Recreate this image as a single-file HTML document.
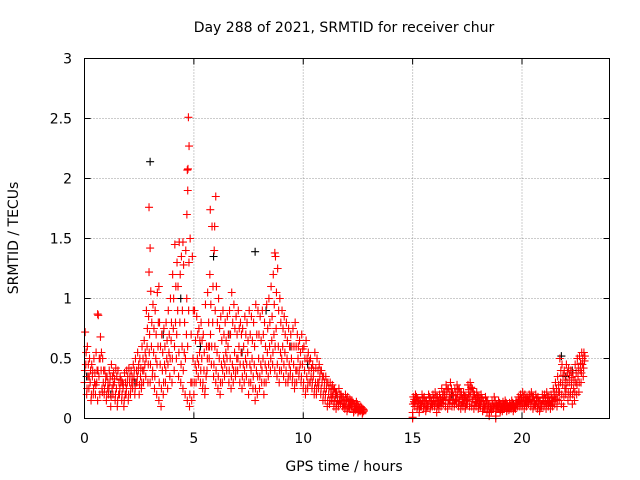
<!DOCTYPE html>
<html><head><meta charset="utf-8"><style>
html,body{margin:0;padding:0;background:#fff;}
svg{display:block;font-family:"DejaVu Sans","Liberation Sans",sans-serif;}
</style></head><body>
<svg id="chart" width="640" height="480" viewBox="0 0 640 480" xmlns="http://www.w3.org/2000/svg">
<rect width="640" height="480" fill="#fff"/>
<text x="344" y="32" font-size="14" text-anchor="middle">Day 288 of 2021, SRMTID for receiver chur</text>
<text transform="translate(18,238) rotate(-90)" font-size="14" text-anchor="middle">SRMTID / TECUs</text>
<text x="344" y="471" font-size="14" text-anchor="middle">GPS time / hours</text>
<g id="grid"></g><g id="marks"></g>
<rect x="84.5" y="58.5" width="525" height="360" fill="none" stroke="#000" stroke-width="1"/>
</svg>
<script>
const xTicks=[0,5,10,15,20];
const yTicks=[0,0.5,1,1.5,2,2.5,3];
const yTickLabels=["0","0.5","1","1.5","2","2.5","3"];
const segAStart=0.0, segBStart=15.0, stepH=0.1;
const segALow=[.3,.2,.25,.15,.2,.2,.15,.2,.25,.2,.15,.2,.1,.2,.15,.1,.2,.15,.1,.2,.15,.2,.25,.2,.3,.2,.25,.3,.35,.3,.3,.35,.25,.2,.15,.1,.2,.3,.25,.35,.3,.4,.5,.35,.3,.25,.2,.15,.1,.15,.2,.3,.35,.3,.25,.2,.4,.5,.45,.35,.3,.25,.2,.3,.35,.4,.3,.25,.3,.35,.4,.3,.25,.3,.35,.2,.3,.25,.15,.2,.25,.3,.2,.3,.35,.4,.45,.4,.35,.3,.4,.35,.3,.3,.35,.3,.25,.3,.35,.3,.25,.2,.25,.3,.25,.2,.2,.25,.2,.15,.15,.1,.12,.15,.1,.08,.1,.12,.1,.08,.06,.08,.1,.05,.07,.05,.06,.04];
const segAHigh=[.72,.6,.5,.45,.5,.55,.86,.68,.5,.4,.35,.4,.45,.38,.42,.4,.35,.3,.38,.4,.42,.4,.45,.5,.55,.5,.6,.65,.9,.85,1.06,.95,.9,1.05,.8,.7,.75,.8,.9,1.0,1.2,1.45,1.3,1.47,1.35,1.28,1.4,2.08,1.5,1.35,.9,.85,.75,.8,.7,.95,1.05,1.2,1.6,1.4,1.1,1.0,.85,.9,.8,.85,.9,1.05,.95,.85,.9,.8,.75,.85,.8,.9,.85,.8,.95,.9,.85,.9,.8,.95,1.0,1.1,1.2,1.35,1.25,1.0,.9,.85,.8,.75,.7,.75,.8,.7,.65,.7,.6,.65,.55,.5,.45,.55,.5,.45,.4,.35,.35,.3,.3,.28,.25,.22,.25,.2,.18,.2,.18,.16,.15,.12,.14,.1,.1,.08];
const segAMid=[.45,.35,.3,.35,.3,.3,.35,.4,.3,.3,.25,.3,.25,.3,.25,.2,.3,.25,.2,.3,.3,.3,.35,.3,.4,.35,.4,.45,.6,.55,.6,.55,.5,.6,.45,.4,.45,.5,.55,.65,.75,.8,.9,.8,.6,.55,.7,.9,.3,.5,.45,.5,.55,.5,.4,.35,.6,.7,.8,.6,.55,.5,.45,.5,.55,.6,.5,.45,.55,.5,.6,.55,.45,.5,.55,.45,.5,.45,.4,.5,.45,.5,.45,.55,.6,.65,.7,.75,.6,.55,.6,.55,.5,.45,.5,.45,.4,.5,.45,.45,.4,.35,.4,.35,.35,.3,.3,.35,.3,.25,.25,.2,.2,.2,.18,.15,.15,.15,.12,.12,.1,.12,.12,.08,.1,.07,.08,.06];
const segALowMid=[.4,.25,.35,.2,.25,.28,.4,.5,.22,.25,.2,.25,.18,.28,.2,.15,.25,.2,.15,.25,.2,.25,.3,.25,.35,.28,.3,.4,.5,.45,.45,.4,.35,.45,.3,.25,.3,.4,.45,.5,.5,.6,.7,.55,.45,.4,.5,.6,.2,.3,.3,.4,.45,.4,.3,.25,.5,.6,.6,.45,.4,.35,.3,.4,.45,.5,.4,.35,.4,.4,.5,.45,.35,.4,.45,.3,.4,.35,.25,.35,.35,.4,.3,.4,.45,.5,.55,.6,.45,.4,.5,.45,.4,.35,.4,.35,.3,.4,.4,.35,.3,.25,.3,.3,.3,.25,.25,.3,.25,.2,.2,.15,.15,.18,.14,.12,.12,.14,.1,.1,.08,.1,.1,.06,.08,.06,.07,.05];
const segAUpMid=[.55,.45,.4,.4,.38,.4,.5,.55,.4,.35,.3,.35,.35,.33,.35,.3,.32,.28,.3,.35,.35,.35,.4,.4,.45,.42,.5,.55,.75,.7,.8,.75,.7,.8,.6,.55,.6,.65,.7,.8,1.0,1.1,1.1,1.2,.9,.8,1.0,1.3,.7,.9,.65,.7,.65,.65,.55,.6,.8,.95,1.1,.9,.8,.75,.65,.7,.65,.7,.7,.8,.75,.7,.75,.7,.6,.7,.65,.7,.65,.6,.7,.7,.65,.7,.6,.75,.8,.85,.95,1.05,.9,.8,.75,.7,.65,.6,.6,.6,.6,.6,.55,.58,.5,.5,.48,.42,.4,.42,.4,.4,.35,.3,.3,.25,.25,.24,.22,.18,.2,.18,.15,.16,.14,.14,.13,.1,.12,.09,.09,.07];
const segBHigh=[.18,.2,.17,.15,.2,.18,.15,.2,.17,.2,.22,.18,.2,.25,.22,.28,.25,.3,.22,.25,.28,.25,.2,.22,.18,.28,.3,.25,.2,.22,.18,.2,.15,.18,.15,.12,.15,.18,.12,.15,.12,.14,.15,.12,.13,.15,.12,.15,.18,.2,.22,.2,.18,.2,.22,.18,.2,.18,.15,.2,.2,.22,.18,.2,.25,.3,.35,.5,.45,.4,.45,.42,.4,.38,.45,.5,.52,.55,.55];
const segBLow=[.05,.1,.08,.05,.1,.08,.06,.1,.08,.1,.1,.05,.08,.1,.12,.1,.08,.12,.1,.1,.12,.1,.08,.1,.08,.12,.1,.1,.08,.1,.08,.1,.06,.08,.05,.02,.06,.08,.06,.08,.05,.06,.08,.06,.07,.08,.06,.08,.1,.1,.1,.08,.1,.12,.1,.08,.1,.08,.06,.1,.1,.08,.1,.08,.1,.12,.1,.15,.12,.1,.2,.15,.18,.12,.15,.2,.22,.3,.35];
const segBMid=[.14,.15,.12,.1,.14,.12,.1,.15,.12,.14,.15,.12,.14,.16,.18,.2,.15,.2,.16,.15,.2,.18,.14,.16,.12,.2,.22,.18,.14,.16,.12,.14,.1,.12,.1,.08,.1,.12,.1,.12,.09,.1,.11,.09,.1,.11,.09,.12,.14,.15,.15,.14,.14,.16,.15,.12,.14,.12,.1,.15,.14,.15,.13,.14,.18,.2,.22,.3,.28,.25,.3,.3,.28,.25,.3,.35,.4,.45,.48];
const segBLowMid=[.12,.13,.1,.08,.12,.1,.08,.12,.1,.12,.12,.1,.11,.13,.15,.15,.12,.16,.13,.12,.16,.14,.11,.13,.1,.16,.18,.14,.11,.13,.1,.12,.08,.1,.08,.05,.08,.1,.08,.1,.07,.08,.1,.08,.08,.1,.08,.1,.12,.12,.12,.11,.12,.14,.12,.1,.12,.1,.08,.12,.12,.12,.12,.11,.14,.16,.16,.22,.2,.18,.25,.22,.22,.2,.22,.28,.3,.38,.42];
const segBUpMid=[.16,.18,.15,.13,.17,.15,.12,.18,.15,.17,.18,.15,.17,.2,.2,.24,.2,.25,.19,.2,.24,.22,.17,.19,.15,.24,.26,.22,.17,.19,.15,.17,.12,.15,.12,.1,.12,.15,.11,.13,.1,.12,.13,.1,.11,.13,.1,.13,.16,.17,.18,.17,.16,.18,.18,.15,.17,.15,.12,.17,.17,.18,.15,.17,.22,.25,.28,.4,.36,.32,.38,.36,.34,.32,.38,.42,.46,.5,.52];
const spikeRedT=[2.95,3.0,2.95,4.75,4.78,4.7,4.72,4.68,4.5,5.75,6.0,5.95,8.7,0.6,3.4,15.0,15.0,18.8,18.8];
const spikeRedV=[1.76,1.42,1.22,2.51,2.27,2.07,1.9,1.7,1.47,1.74,1.85,1.6,1.38,0.87,1.1,0,0.01,0,0.02];
const blackT=[3.0,7.8,5.9,0.1,1.2,2.3,3.6,4.4,5.3,6.6,7.2,8.3,9.4,10.2,11.5,21.8,22.3,22.0,16.8,19.6];
const blackV=[2.14,1.39,1.35,0.35,0.2,0.3,0.7,1.0,0.6,0.7,0.55,0.9,0.6,0.45,0.2,0.52,0.4,0.35,0.2,0.12];

const NS="http://www.w3.org/2000/svg";
const X0=84.5,X1=609.5,Y0=418.5,Y1=58.5,XMAX=24,YMAX=3;
function xs(t){return X0+(t/XMAX)*(X1-X0);}
function ys(v){return Y0-(v/YMAX)*(Y0-Y1);}
const grid=document.getElementById('grid'),marks=document.getElementById('marks');
function el(tag,a,p){const e=document.createElementNS(NS,tag);for(const k in a)e.setAttribute(k,a[k]);p.appendChild(e);return e;}
yTicks.forEach((v,i)=>{
  const y=ys(v);
  if(i>0&&i<yTicks.length-1){const g=el('line',{x1:X0,x2:X1,y1:y,y2:y,stroke:'#999','stroke-dasharray':'1,2'},grid);
  
  }
  const t=el('line',{x1:X0,x2:X0+6,y1:y,y2:y,stroke:'#000'},grid);
  
  
  const t2=el('line',{x1:X1,x2:X1-6,y1:y,y2:y,stroke:'#000'},grid);
  
  
  const l=el('text',{x:72,y:y+5,'font-size':14,'text-anchor':'end'},grid);l.textContent=yTickLabels[i];
  
  
});
xTicks.forEach(v=>{
  const x=xs(v);
  if(v>0){const g=el('line',{x1:x,x2:x,y1:Y0,y2:Y1,stroke:'#999','stroke-dasharray':'1,2'},grid);
  
  }
  const t=el('line',{x1:x,x2:x,y1:Y0,y2:Y0-6,stroke:'#000'},grid);
  
  
  const t2=el('line',{x1:x,x2:x,y1:Y1,y2:Y1+6,stroke:'#000'},grid);
  
  
  const l=el('text',{x:x,y:443,'font-size':14,'text-anchor':'middle'},grid);l.textContent=String(v);
  
  
});
function cross(t,v,c,name){
  const x=xs(t),y=ys(v);
  const p=el('path',{d:`M${x-4},${y}h8M${x},${y-4}v8`,stroke:c,'stroke-width':1.1,fill:'none'},marks);
  
  
}
blackT.forEach((t,i)=>cross(t,blackV[i],'#000','black-point'));
function seg(start,arr,off){arr.forEach((v,i)=>cross(start+i*stepH+off,v,'#f00','red-point'));}
seg(segAStart,segALow,0);seg(segAStart,segAHigh,0.03);seg(segAStart,segAMid,0.06);
seg(segAStart,segALowMid,0.015);seg(segAStart,segAUpMid,0.075);
seg(segBStart,segBLow,0);seg(segBStart,segBHigh,0.03);seg(segBStart,segBMid,0.06);
seg(segBStart,segBLowMid,0.015);seg(segBStart,segBUpMid,0.075);
spikeRedT.forEach((t,i)=>cross(t,spikeRedV[i],'#f00','red-spike-point'));
</script>
</body></html>
